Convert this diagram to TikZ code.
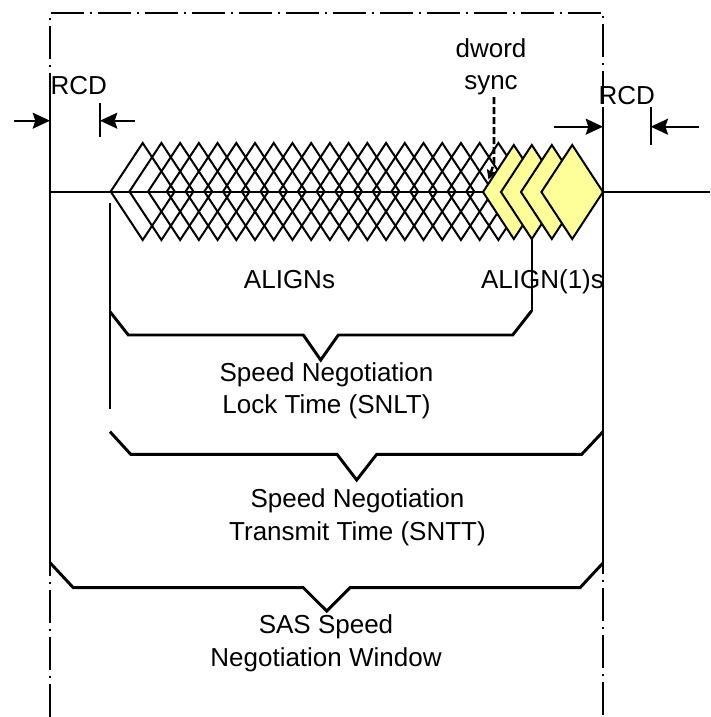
\documentclass[tikz,border=0pt]{standalone}
\usepackage{fontspec}
\setmainfont{Liberation Sans}
\usetikzlibrary{arrows.meta}
\definecolor{alignyellow}{HTML}{FFFF99}
\begin{document}
\begin{tikzpicture}[x=0.75pt,y=-0.75pt,
  lbl/.style={font=\fontsize{19.5}{23.4}\selectfont, inner sep=0pt, anchor=base},
  thinline/.style={line width=1.4pt},
  bracketline/.style={line width=2.2pt, line join=miter},
  dashdotline/.style={line width=1.4pt, dash pattern=on 24.75pt off 4.5pt on 1.5pt off 4.5pt},
  whitedia/.style={line width=1.5pt},
  yellowdia/.style={line width=1.5pt, fill=alignyellow},
  rcdarrow/.style={line width=1.3pt, -{Stealth[length=13pt,width=12pt,inset=2pt]}},
  syncarrow/.style={line width=1.9pt, dash pattern=on 5.25pt off 2.25pt, -{Stealth[length=7pt,width=7pt,inset=1pt]}},
]
\useasboundingbox (0,0) rectangle (710,717);

% window (dash-dot frame)
\coordinate (wBL) at (50,717);
\coordinate (wTL) at (50,12.7);
\coordinate (wTR) at (603,12.7);
\coordinate (wBR) at (603,717);
\draw[dashdotline] (wBL) -- (wTL) -- (wTR) -- (wBR);
% solid parts of the window edges
\coordinate (lsT) at (50,96.7);
\coordinate (lsB) at (50,555);
\coordinate (rsT) at (603,106.7);
\coordinate (rsB) at (603,553);
\draw[thinline] (lsT) -- (lsB);
\draw[thinline] (rsT) -- (rsB);

% white ALIGN diamonds
\foreach \k in {0,...,19} {
  \draw[whitedia] ({110.7+18.72*\k},191.5) -- ++(32,-48.5) -- ++(32,48.5) -- ++(-32,48.5) -- cycle;
}
% base line
\coordinate (baseL) at (50,192);
\coordinate (baseR) at (710,192);
\draw[thinline] (baseL) -- (baseR);
% yellow ALIGN(1) diamonds
\foreach \l in {483,501,521,541.4} {
  \draw[yellowdia] (\l,192) -- ++(30.8,-47) -- ++(30.8,47) -- ++(-30.8,47) -- cycle;
}

% labels
\node[lbl] (rcdL) at (78.7,94.3) {RCD};
\node[lbl] (rcdR) at (626.7,104) {RCD};
\node[lbl] (dword) at (491,57.3) {dword};
\node[lbl] (sync) at (491,89.5) {sync};
\node[lbl] (aligns) at (289.5,288.3) {ALIGNs};
\node[lbl] (align1) at (542.5,288.3) {ALIGN(1)s};
\node[lbl] (snlt1) at (326.5,381.7) {Speed Negotiation};
\node[lbl] (snlt2) at (326.5,413.3) {Lock Time (SNLT)};
\node[lbl] (sntt1) at (357.5,507.8) {Speed Negotiation};
\node[lbl] (sntt2) at (357.5,540) {Transmit Time (SNTT)};
\node[lbl] (sas1) at (326,633.3) {SAS Speed};
\node[lbl] (sas2) at (326,666) {Negotiation Window};

% dword sync arrow
\coordinate (syncS) at (494,97);
\coordinate (syncB) at (494,163);
\coordinate (syncT) at (488.5,179.5);
\draw[syncarrow] (syncS) -- (syncB) -- (syncT);

% RCD left
\coordinate (rlA) at (14,120.7);
\coordinate (rlTip) at (50,120.7);
\draw[rcdarrow] (rlA) -- (rlTip);
\coordinate (rlTickT) at (100,103.3);
\coordinate (rlTickB) at (100,136.7);
\draw[thinline] (rlTickT) -- (rlTickB);
\coordinate (rlB) at (135,120.7);
\coordinate (rlTip2) at (100,120.7);
\draw[rcdarrow] (rlB) -- (rlTip2);

% RCD right
\coordinate (rrA) at (554,126.7);
\coordinate (rrTip) at (603,126.7);
\draw[rcdarrow] (rrA) -- (rrTip);
\coordinate (rrTickT) at (650.7,106.7);
\coordinate (rrTickB) at (650.7,145);
\draw[thinline] (rrTickT) -- (rrTickB);
\coordinate (rrB) at (699.3,126.7);
\coordinate (rrTip2) at (650.7,126.7);
\draw[rcdarrow] (rrB) -- (rrTip2);

% start of ALIGNs marker line
\coordinate (startT) at (110,203.3);
\coordinate (startB) at (110,409);
\draw[thinline] (startT) -- (startB);
% ALIGN(1) marker line
\coordinate (a1T) at (531.7,239);
\coordinate (a1B) at (531.7,310.7);
\draw[thinline] (a1T) -- (a1B);

% SNLT bracket
\draw[bracketline] (110,311.7) -- (128.3,335) -- (303.3,335) -- (320.7,360) -- (338.3,335) -- (512.7,335) -- (a1B);
% SNTT bracket
\draw[bracketline] (110,431.7) -- (130.7,454.3) -- (337,454.3) -- (356.7,480) -- (376.7,454.3) -- (581.7,454.3) -- (603,431.7);
% SAS window bracket
\draw[bracketline] (50,562.7) -- (73.3,587.7) -- (303.3,587.7) -- (326.7,611) -- (350,587.7) -- (580,587.7) -- (602.7,563.3);
\end{tikzpicture}
\end{document}
